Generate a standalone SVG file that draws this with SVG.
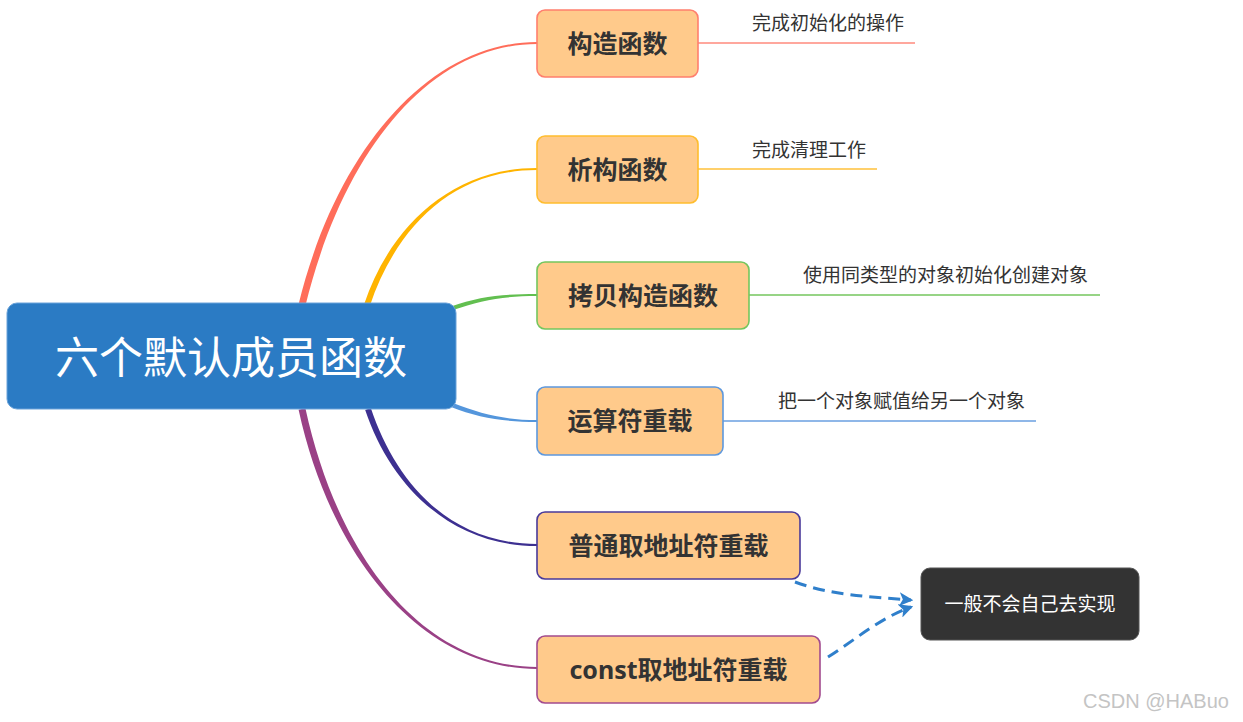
<svg xmlns="http://www.w3.org/2000/svg" width="1243" height="722" viewBox="0 0 1243 722">
<defs>
<style>
.node{fill:#ffca8b;stroke-width:1.6}
.nt{font-family:"Noto Sans","Noto Sans CJK SC",sans-serif;font-weight:700;font-size:25px;fill:#333;text-anchor:middle;dominant-baseline:central}
.lt{font-family:"Noto Sans CJK SC",sans-serif;font-size:19px;fill:#333;dominant-baseline:central}
.ul{fill:none;stroke-width:1.5}
.dash{fill:none;stroke:#2f7fcb;stroke-width:3;stroke-dasharray:12 7}
</style>
<marker id="ah" viewBox="0 0 12 12" refX="10" refY="6" markerWidth="14" markerHeight="14" markerUnits="userSpaceOnUse" orient="auto">
<path d="M0,0 L12,6 L0,12 L3,6 Z" fill="#2f7fcb"/>
</marker>
</defs>
<rect width="1243" height="722" fill="#ffffff"/>
<g id="connectors">
<path d="M298.6,304.2 C336.6,149.2 430,42 537,42 L537,44 C430,44 343.4,150.8 305.4,305.8 Z" fill="#ff6d5a"/>
<path d="M364.2,304 C389.2,229 450,168 537,168 L537,170 C450,170 394.8,231 369.8,306 Z" fill="#ffb400"/>
<path d="M451,306.5 C480,296 505,294 537,294 L537,296 C505,296 481,300 453,310 Z" fill="#62bf50"/>
<path d="M453,403 C481,414 505,420 537,420 L537,422 C505,422 479,418 451,407 Z" fill="#5496dc"/>
<path d="M370.8,408 C395.8,483 450,544 537,544 L537,546 C450,546 390.2,485 365.2,410 Z" fill="#3d3091"/>
<path d="M305.4,408.2 C340.4,568.2 430,667 537,667 L537,669 C430,669 333.6,569.8 298.6,409.8 Z" fill="#9a4186"/>
<path class="ul" d="M698,43 L915,43" stroke="#ff8a7c"/>
<path class="ul" d="M698,169 L877,169" stroke="#ffc13a"/>
<path class="ul" d="M749,295 L1100,295" stroke="#74c65e"/>
<path class="ul" d="M723,421 L1036,421" stroke="#6a9fe0"/>
<path class="dash" d="M795,582 C830,595 870,597 911,600" marker-end="url(#ah)"/>
<path class="dash" d="M828,657 C855,640 880,618 911,607" marker-end="url(#ah)"/>
</g>
<g id="root">
<rect x="7" y="303" width="449" height="106" rx="10" fill="#2b7bc4" stroke="#6aa3da" stroke-width="1"/>
<text x="231" y="355" font-family="Noto Sans CJK SC, sans-serif" font-size="44" fill="#ffffff" text-anchor="middle" dominant-baseline="central">六个默认成员函数</text>
</g>
<g id="n1">
<rect class="node" x="537" y="10" width="161" height="67" rx="8" stroke="#ff7f6e"/>
<text class="nt" x="617.5" y="42.5">构造函数</text>
<text class="lt" x="752" y="21">完成初始化的操作</text>
</g>
<g id="n2">
<rect class="node" x="537" y="136" width="161" height="67" rx="8" stroke="#ffbd2e"/>
<text class="nt" x="617.5" y="168.5">析构函数</text>
<text class="lt" x="752" y="148">完成清理工作</text>
</g>
<g id="n3">
<rect class="node" x="537" y="262" width="212" height="67" rx="8" stroke="#74c65e"/>
<text class="nt" x="643" y="294.5">拷贝构造函数</text>
<text class="lt" x="803" y="273">使用同类型的对象初始化创建对象</text>
</g>
<g id="n4">
<rect class="node" x="537" y="387" width="186" height="68" rx="8" stroke="#5d98de"/>
<text class="nt" x="630" y="419.5">运算符重载</text>
<text class="lt" x="778" y="399">把一个对象赋值给另一个对象</text>
</g>
<g id="n5">
<rect class="node" x="537" y="512" width="263" height="67" rx="8" stroke="#4a3a9a"/>
<text class="nt" x="668.5" y="544.5">普通取地址符重载</text>
</g>
<g id="n6">
<rect class="node" x="537" y="636" width="283" height="67" rx="8" stroke="#a24b8f"/>
<text class="nt" x="678.5" y="668.5">const取地址符重载</text>
</g>
<g id="note">
<rect x="921" y="568" width="218" height="72" rx="9" fill="#333333" stroke="#555" stroke-width="1"/>
<text x="1030" y="602.5" font-family="Noto Sans CJK SC, sans-serif" font-size="19" fill="#ffffff" text-anchor="middle" dominant-baseline="central">一般不会自己去实现</text>
</g>
<text x="1083" y="708" font-family="Liberation Sans, sans-serif" font-size="20" fill="#c4c4c4">CSDN @HABuo</text>
</svg>
